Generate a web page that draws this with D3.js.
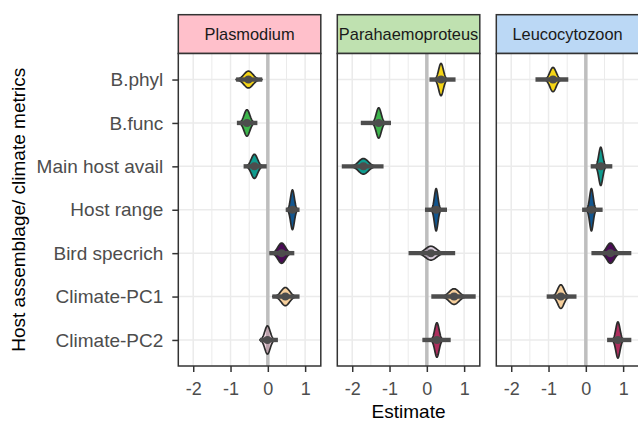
<!DOCTYPE html>
<html>
<head>
<meta charset="utf-8">
<script src="https://cdn.jsdelivr.net/npm/d3@7"></script>
<style>
  body { margin: 0; background: #fff; }
  svg { display: block; font-family: "Liberation Sans", Arial, sans-serif; }
</style>
</head>
<body>
<div id="chart"></div>
<script>

var categories = ['B.phyl', 'B.func', 'Main host avail', 'Host range', 'Bird specrich', 'Climate-PC1', 'Climate-PC2'];
var parasites = ['Plasmodium', 'Parahaemoproteus', 'Leucocytozoon'];
var xTicks = [-2, -1, 0, 1];

// posterior estimate, interval ends, spread of the posterior, and whether it is clear of zero
var plasmodiumEst = [-0.52, -0.56, -0.36, 0.66, 0.37, 0.47, -0.01];
var plasmodiumLow = [-0.85, -0.83, -0.65, 0.48, 0.04, 0.12, -0.21];
var plasmodiumHigh = [-0.15, -0.28, -0.03, 0.85, 0.71, 0.85, 0.27];
var plasmodiumSd = [0.121, 0.077, 0.084, 0.051, 0.10, 0.112, 0.072];
var plasmodiumSig = [true, true, true, true, true, true, false];

var parahaemoEst = [0.38, -1.29, -1.70, 0.25, 0.11, 0.73, 0.27];
var parahaemoLow = [0.07, -1.77, -2.28, -0.05, -0.49, 0.12, -0.12];
var parahaemoHigh = [0.77, -0.96, -1.16, 0.54, 0.76, 1.31, 0.64];
var parahaemoSd = [0.063, 0.067, 0.13, 0.048, 0.146, 0.13, 0.059];
var parahaemoSig = [true, true, true, true, false, true, true];

var leucoEst = [-0.88, null, 0.40, 0.15, 0.66, -0.67, 0.86];
var leucoLow = [-1.35, null, 0.13, -0.10, 0.15, -1.05, 0.57];
var leucoHigh = [-0.47, null, 0.71, 0.45, 1.22, -0.25, 1.22];
var leucoSd = [0.084, null, 0.053, 0.048, 0.10, 0.086, 0.056];
var leucoSig = [true, null, true, true, true, true, true];

var panelData = [
  { est: plasmodiumEst, low: plasmodiumLow, high: plasmodiumHigh, sd: plasmodiumSd, sig: plasmodiumSig },
  { est: parahaemoEst, low: parahaemoLow, high: parahaemoHigh, sd: parahaemoSd, sig: parahaemoSig },
  { est: leucoEst, low: leucoLow, high: leucoHigh, sd: leucoSd, sig: leucoSig }
];

var categoryColors = ['#F5D516', '#3DB54B', '#0F9B8E', '#12568F', '#4A0B56', '#F6CF9C', '#AE2F5E'];
var stripFills = ['#FFC0CB', '#BFE1B0', '#BBD8F5'];

var width = 638,
  height = 421,
  panelLeft = 178.3,
  panelWidth = 142.5,
  panelGap = 16.5,
  stripTop = 14.7,
  panelTop = 53.5,
  panelBottom = 366,
  violinArea = 95;

var svg = d3.select('#chart').append('svg')
  .attr('width', width)
  .attr('height', height);

var y = d3.scalePoint()
  .domain(categories)
  .range([panelTop, panelBottom])
  .padding(0.6);

var x = d3.scaleLinear()
  .domain([-2.4, 1.42])
  .range([0, panelWidth]);

var minorTicks = [-1.5, -0.5, 0.5];

parasites.forEach(function(parasite, p) {
  var left = panelLeft + p * (panelWidth + panelGap);
  var data = panelData[p];

  var g = svg.append('g')
    .attr('transform', 'translate(' + left + ',0)');

  // strip
  g.append('rect')
    .attr('x', 0)
    .attr('y', stripTop)
    .attr('width', panelWidth)
    .attr('height', panelTop - stripTop)
    .attr('fill', stripFills[p])
    .attr('stroke', '#333')
    .attr('stroke-width', 1.5);

  g.append('text')
    .attr('x', panelWidth / 2)
    .attr('y', 40)
    .attr('text-anchor', 'middle')
    .attr('font-size', '16.4px')
    .attr('fill', '#1a1a1a')
    .text(parasite);

  // panel background and grid
  g.append('rect')
    .attr('x', 0)
    .attr('y', panelTop)
    .attr('width', panelWidth)
    .attr('height', panelBottom - panelTop)
    .attr('fill', '#fff');

  g.selectAll('.minor')
    .data(minorTicks)
    .enter().append('line')
    .attr('x1', function(d) { return x(d); })
    .attr('x2', function(d) { return x(d); })
    .attr('y1', panelTop)
    .attr('y2', panelBottom)
    .attr('stroke', '#ebebeb')
    .attr('stroke-width', 1);

  g.selectAll('.major')
    .data(xTicks)
    .enter().append('line')
    .attr('x1', function(d) { return x(d); })
    .attr('x2', function(d) { return x(d); })
    .attr('y1', panelTop)
    .attr('y2', panelBottom)
    .attr('stroke', '#ebebeb')
    .attr('stroke-width', 1.5);

  g.selectAll('.hgrid')
    .data(categories)
    .enter().append('line')
    .attr('x1', 0)
    .attr('x2', panelWidth)
    .attr('y1', function(d) { return y(d); })
    .attr('y2', function(d) { return y(d); })
    .attr('stroke', '#ebebeb')
    .attr('stroke-width', 1.5);

  // zero line
  g.append('line')
    .attr('x1', x(0))
    .attr('x2', x(0))
    .attr('y1', panelTop)
    .attr('y2', panelBottom)
    .attr('stroke', '#bebebe')
    .attr('stroke-width', 3.5);

  var rows = categories.map(function(cat, i) {
    return { cat: cat, i: i, est: data.est[i], low: data.low[i], high: data.high[i], sd: data.sd[i], sig: data.sig[i] };
  }).filter(function(d) { return d.est !== null; });

  // violins: density of the posterior, equal area
  rows.forEach(function(d) {
    var sdPx = d.sd * (x(1) - x(0));
    var peak = violinArea / (sdPx * Math.sqrt(2 * Math.PI));
    var a = Math.max(d.low, d.est - 3 * d.sd);
    var b = Math.min(d.high, d.est + 3 * d.sd);
    var pts = d3.range(0, 61).map(function(k) { return a + (b - a) * k / 60; });
    var half = function(v) {
      var z = (v - d.est) / d.sd;
      return peak * Math.exp(-0.5 * z * z);
    };
    var area = d3.area()
      .x(function(v) { return x(v); })
      .y0(function(v) { return y(d.cat) - half(v); })
      .y1(function(v) { return y(d.cat) + half(v); });

    g.append('path')
      .attr('d', area(pts))
      .attr('fill', categoryColors[d.i])
      .attr('fill-opacity', d.sig ? 1 : 0.2)
      .attr('stroke', '#2b2b2b')
      .attr('stroke-width', 1.7)
      .attr('stroke-linejoin', 'round');
  });

  // interval and point
  g.selectAll('.interval')
    .data(rows)
    .enter().append('line')
    .attr('x1', function(d) { return x(d.low); })
    .attr('x2', function(d) { return x(d.high); })
    .attr('y1', function(d) { return y(d.cat); })
    .attr('y2', function(d) { return y(d.cat); })
    .attr('stroke', '#4d4d4d')
    .attr('stroke-width', 4.4);

  g.selectAll('.point')
    .data(rows)
    .enter().append('circle')
    .attr('cx', function(d) { return x(d.est); })
    .attr('cy', function(d) { return y(d.cat); })
    .attr('r', 4)
    .attr('fill', '#4d4d4d');

  // panel border
  g.append('rect')
    .attr('x', 0)
    .attr('y', panelTop)
    .attr('width', panelWidth)
    .attr('height', panelBottom - panelTop)
    .attr('fill', 'none')
    .attr('stroke', '#333')
    .attr('stroke-width', 1.5);

  // x axis
  var xAxis = g.append('g')
    .attr('transform', 'translate(0,' + panelBottom + ')')
    .call(d3.axisBottom(x).tickValues(xTicks).tickSize(6).tickPadding(10).tickFormat(d3.format('d')));
  xAxis.select('.domain').remove();
  xAxis.selectAll('line').attr('stroke', '#333').attr('stroke-width', 1.5);
  xAxis.selectAll('text')
    .attr('font-size', '18px')
    .attr('fill', '#4d4d4d')
    .attr('font-family', '"Liberation Sans", Arial, sans-serif')
    .text(function(d) { return d < 0 ? '-' + Math.abs(d) : d; });
});

// y axis on the first panel
var yAxis = svg.append('g')
  .attr('transform', 'translate(' + panelLeft + ',0)')
  .call(d3.axisLeft(y).tickSize(6).tickPadding(9));
yAxis.select('.domain').remove();
yAxis.selectAll('line').attr('stroke', '#333').attr('stroke-width', 1.5);
yAxis.selectAll('text')
  .attr('font-size', '19px')
  .attr('fill', '#4d4d4d')
  .attr('font-family', '"Liberation Sans", Arial, sans-serif');

// axis titles
svg.append('text')
  .attr('x', panelLeft + (3 * panelWidth + 2 * panelGap) / 2)
  .attr('y', 418)
  .attr('text-anchor', 'middle')
  .attr('font-size', '19px')
  .attr('fill', '#000')
  .text('Estimate');

svg.append('text')
  .attr('transform', 'translate(25,' + (panelTop + panelBottom) / 2 + ') rotate(-90)')
  .attr('text-anchor', 'middle')
  .attr('font-size', '19px')
  .attr('fill', '#000')
  .text('Host assemblage/ climate metrics');

</script>
</body>
</html>
